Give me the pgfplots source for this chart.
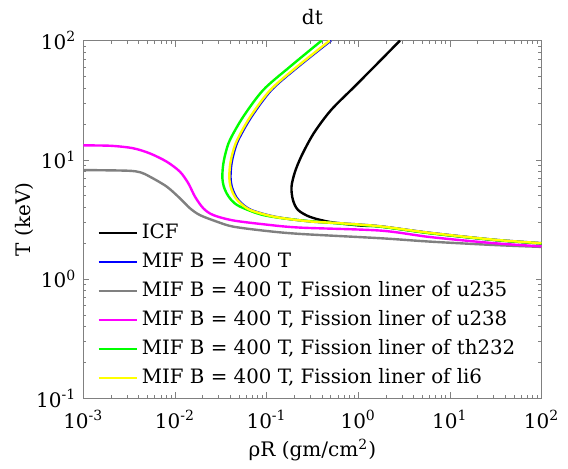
\documentclass[border=0pt]{standalone}
\usepackage{fontspec}
\setmainfont{DejaVu Serif}
\usepackage{pgfplots}
\pgfplotsset{compat=1.18}
\definecolor{mgray}{RGB}{128,128,128}
\definecolor{mmag}{RGB}{255,0,255}
\definecolor{mgreen}{RGB}{0,255,0}
\definecolor{myellow}{RGB}{255,255,0}
\begin{document}
\fontsize{10}{12}\selectfont
\begin{tikzpicture}
\begin{axis}[
  scale only axis, width=229.1pt, height=178.9pt,
  xmode=log, ymode=log, xmin=1e-3, xmax=100, ymin=0.1, ymax=100,
  xtick={1e-3,1e-2,1e-1,1,10,100},
  xticklabels={10\textsuperscript{-3},10\textsuperscript{-2},10\textsuperscript{-1},10\textsuperscript{0},10\textsuperscript{1},10\textsuperscript{2}},
  ytick={0.1,1,10,100},
  yticklabels={10\textsuperscript{-1},10\textsuperscript{0},10\textsuperscript{1},10\textsuperscript{2}},
  xticklabel style={yshift=-2.5pt},
  axis line style={black!50}, tick style={black!50},
  major tick length=3pt, minor tick length=1.6pt,
  title={dt}, title style={at={(0.5,1)}, anchor=center, yshift=5.75pt},
  xlabel={ρR (gm/cm\textsuperscript{2})},
  xlabel style={at={([yshift=-26pt]rel axis cs:0.5,0)}, anchor=center},
  ylabel={T (keV)},
  ylabel style={at={([xshift=-29.5pt]rel axis cs:0,0.5)}, anchor=center},
  legend cell align=left,
  legend style={at={(0.03,0.028)}, anchor=south west, draw=none, fill=none,
    inner sep=0pt, row sep=4.85pt, column sep=2pt, font=\fontsize{9.9}{11}\selectfont,
    nodes={inner sep=0pt, text height=7.5pt, text depth=2.2pt}},
  legend image code/.code={\draw[#1] (0pt,0pt) -- (19pt,0pt);},
  every axis plot/.append style={line width=1.2pt, smooth, tension=0.5},
]
\addplot[black] coordinates {(2.86,100) (1.60,63.5) (0.900,40.7) (0.505,26.1) (0.329,16.8) (0.243,10.96) (0.204,7.91) (0.187,5.92) (0.194,4.60) (0.220,3.80) (0.298,3.32) (0.492,3.01) (1.045,2.81) (1.73,2.76) (6.08,2.43) (30,2.13) (100,1.99)};
\addlegendentry{ICF}
\addplot[blue] coordinates {(0.505,100) (0.221,60.3) (0.113,38.5) (0.0685,23.0) (0.0492,14.7) (0.0436,11.2) (0.0411,8.91) (0.0404,7.08) (0.0415,6.03) (0.0445,5.2) (0.0503,4.5) (0.0675,3.8) (0.126,3.32) (0.30,3.04) (0.63,2.94) (1.73,2.77) (6.08,2.44) (30,2.14) (100,2.0)};
\addlegendentry{MIF B = 400 T}
\addplot[mgray] coordinates {(0.001,8.2) (0.003,8.1) (0.0042,7.85) (0.00534,7.21) (0.00813,5.96) (0.01135,4.75) (0.0146,3.92) (0.0187,3.44) (0.0286,3.03) (0.0433,2.75) (0.1,2.53) (0.232,2.39) (1.73,2.20) (6.08,2.06) (30,1.93) (100,1.86)};
\addlegendentry{MIF B = 400 T, Fission liner of u235}
\addplot[mmag] coordinates {(0.001,13.2) (0.002,13.1) (0.00348,12.5) (0.00534,11.3) (0.00813,9.64) (0.01135,7.94) (0.0140,6.35) (0.01655,4.91) (0.0204,3.92) (0.0262,3.44) (0.0433,3.10) (0.1,2.86) (0.232,2.70) (1.73,2.55) (6.08,2.25) (30,2.0) (100,1.88)};
\addlegendentry{MIF B = 400 T, Fission liner of u238}
\addplot[mgreen] coordinates {(0.40,100) (0.180,60.3) (0.092,38.5) (0.0557,23.0) (0.0399,14.7) (0.0355,11.2) (0.0335,8.91) (0.0329,7.08) (0.0340,6.03) (0.0366,5.25) (0.0415,4.57) (0.0513,4.05) (0.092,3.44) (0.213,3.13) (0.63,2.92) (1.73,2.75) (6.08,2.42) (30,2.13) (100,1.99)};
\addlegendentry{MIF B = 400 T, Fission liner of th232}
\addplot[myellow] coordinates {(0.49,100) (0.215,60.3) (0.110,38.5) (0.0665,23.0) (0.0478,14.7) (0.0423,11.2) (0.0399,8.91) (0.0392,7.08) (0.0403,6.03) (0.0432,5.2) (0.049,4.5) (0.066,3.8) (0.124,3.32) (0.298,3.04) (0.63,2.94) (1.73,2.77) (6.08,2.44) (30,2.14) (100,2.0)};
\addlegendentry{MIF B = 400 T, Fission liner of li6}
\end{axis}
\path (current axis.south west) ++(-41.65pt,-30.35pt);
\path (current axis.north east) ++(13.25pt,20.25pt);
\end{tikzpicture}
\end{document}
